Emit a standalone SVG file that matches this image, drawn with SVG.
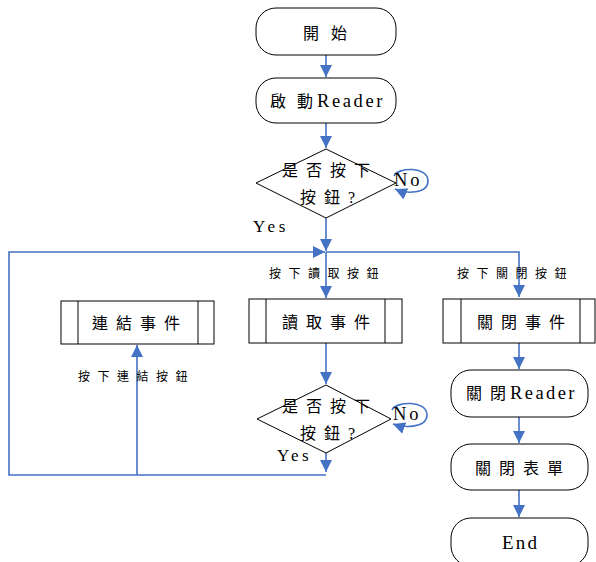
<svg xmlns="http://www.w3.org/2000/svg" width="596" height="562" viewBox="0 0 596 562">
<defs>
<marker id="ah" markerUnits="userSpaceOnUse" markerWidth="12" markerHeight="12" viewBox="0 0 10 10" refX="10" refY="5" orient="auto">
<path d="M0,0 L10,5 L0,10 Z" fill="#4472C4"/>
</marker>
</defs>
<style>
.box{fill:#fff;stroke:#000;stroke-width:1}
.ln{fill:none;stroke:#4472C4;stroke-width:1.6}
.t{font-family:"Liberation Serif","Noto Sans CJK TC",serif;font-size:16px;fill:#000;dominant-baseline:central}
.t .l, .t.l{font-size:18.5px}
.t.y{font-size:17px}
.t.e{font-size:19px}
.s{font-family:"Liberation Serif","Noto Sans CJK TC",serif;font-size:12px;fill:#000;letter-spacing:7.5px;dominant-baseline:central}
</style>
<rect width="596" height="562" fill="#fff"/>
<g id="connectors">
<path class="ln" d="M326,55 V77" marker-end="url(#ah)"/>
<path class="ln" d="M326,123 V148" marker-end="url(#ah)"/>
<path class="ln" d="M326,218 V251" marker-end="url(#ah)"/>
<path class="ln" d="M326,252 V298" marker-end="url(#ah)"/>
<path class="ln" d="M326,252 H519 V297" stroke-width="1.2" marker-end="url(#ah)"/>
<path class="ln" d="M326,343 V384" marker-end="url(#ah)"/>
<path class="ln" d="M326,453 V472" marker-end="url(#ah)"/>
<path class="ln" d="M326,475 H9 V252 H325" stroke-width="2" marker-end="url(#ah)"/>
<path class="ln" d="M137,475 V345" marker-end="url(#ah)"/>
<path class="ln" d="M519,343 V369" marker-end="url(#ah)"/>
<path class="ln" d="M519,417 V443" marker-end="url(#ah)"/>
<path class="ln" d="M519,490 V517" marker-end="url(#ah)"/>
<path class="ln" d="M394,176 C398,167 428,166 428,181 C428,194 406,194 395,189" stroke-width="1.3" marker-end="url(#ah)"/>
<path class="ln" d="M392,410 C396,401 427,400 427,415 C427,428 404,428 393,424" stroke-width="1.3" marker-end="url(#ah)"/>
</g>
<g id="start">
<rect class="box" x="256" y="8" width="140" height="47" rx="20"/>
<text class="t" x="303" y="33" letter-spacing="12">開始</text>
</g>
<g id="startReader">
<rect class="box" x="256" y="78" width="140" height="45" rx="20"/>
<text class="t" x="270" y="101"><tspan letter-spacing="11">啟</tspan><tspan letter-spacing="4">動</tspan><tspan class="l" letter-spacing="2.6">Reader</tspan></text>
</g>
<g id="decision1">
<polygon class="box" points="326,149 396,183 326,218 256,183"/>
<text class="t" x="282" y="170" letter-spacing="8">是否按下</text>
<text class="t" x="300" y="197" letter-spacing="8">按鈕?</text>
<text class="t l" x="394" y="180" letter-spacing="3">No</text>
<text class="t y" x="253" y="226" letter-spacing="3.8">Yes</text>
</g>
<g id="connectEvent">
<rect class="box" x="61" y="301" width="153" height="43"/>
<path d="M78,301 V344 M198,301 V344" stroke="#000" fill="none"/>
<text class="t" x="92" y="323" letter-spacing="8">連結事件</text>
</g>
<g id="readEvent">
<rect class="box" x="249" y="299" width="153" height="44"/>
<path d="M266,299 V343 M385,299 V343" stroke="#000" fill="none"/>
<text class="t" x="282" y="322" letter-spacing="8">讀取事件</text>
</g>
<g id="closeEvent">
<rect class="box" x="443" y="299" width="152" height="44"/>
<path d="M461,299 V343 M580,299 V343" stroke="#000" fill="none"/>
<text class="t" x="477" y="322" letter-spacing="8">關閉事件</text>
</g>
<g id="labels">
<text class="s" x="269" y="274">按下讀取按鈕</text>
<text class="s" x="457" y="274">按下關閉按鈕</text>
<text class="s" x="78" y="377">按下連結按鈕</text>
</g>
<g id="decision2">
<polygon class="box" points="326,385 391,419 326,453 257,419"/>
<text class="t" x="282" y="406" letter-spacing="8">是否按下</text>
<text class="t" x="300" y="433" letter-spacing="8">按鈕?</text>
<text class="t l" x="393" y="414" letter-spacing="3">No</text>
<text class="t y" x="277" y="455" letter-spacing="3.5">Yes</text>
</g>
<g id="closeReader">
<rect class="box" x="451" y="370" width="137" height="47" rx="20"/>
<text class="t" x="466" y="393"><tspan letter-spacing="8">關</tspan><tspan letter-spacing="4">閉</tspan><tspan class="l" letter-spacing="2.4">Reader</tspan></text>
</g>
<g id="closeForm">
<rect class="box" x="451" y="444" width="137" height="46" rx="20"/>
<text class="t" x="475" y="468" letter-spacing="8">關閉表單</text>
</g>
<g id="end">
<rect class="box" x="451" y="518" width="137" height="48" rx="20"/>
<text class="t e" x="502" y="542" letter-spacing="2.2">End</text>
</g>
</svg>
